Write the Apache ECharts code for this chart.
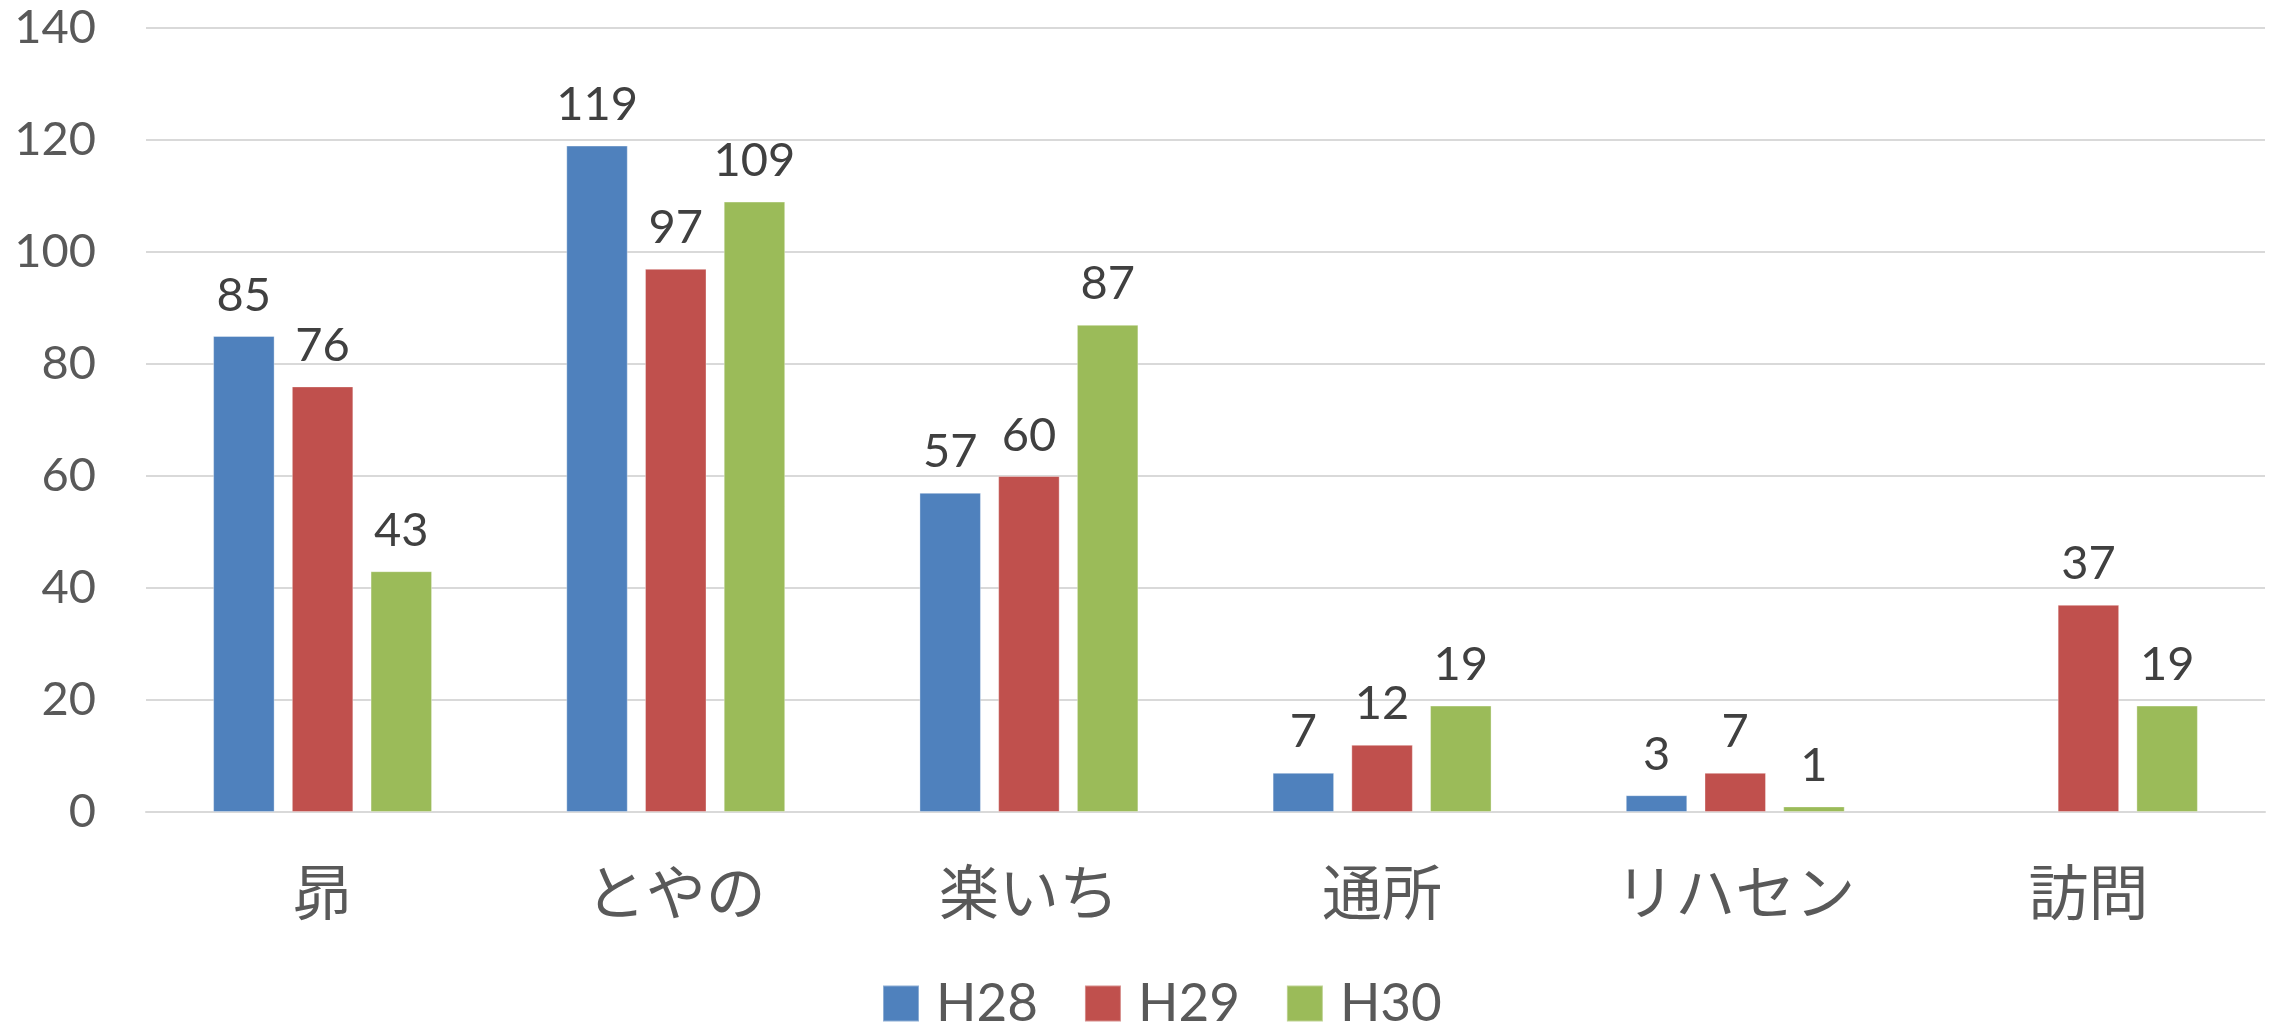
<!DOCTYPE html>
<html>
<head>
<meta charset="utf-8">
<script src="https://cdn.jsdelivr.net/npm/echarts@6/dist/echarts.min.js"></script>
<style>
  html, body { margin: 0; padding: 0; background: #ffffff; }
  #chart { width: 2277px; height: 1024px; }
</style>
</head>
<body>
<div id="chart"></div>
<script>
// Users per service, by fiscal year
const categories = ['昴', 'とやの', '楽いち', '通所', 'リハセン', '訪問'];
const seriesNames = ['H28', 'H29', 'H30'];
const valuesH28 = [85, 119, 57, 7, 3, null];
const valuesH29 = [76, 97, 60, 12, 7, 37];
const valuesH30 = [43, 109, 87, 19, 1, 19];
const yTicks = [0, 20, 40, 60, 80, 100, 120, 140];

const colors = ['#4F81BD', '#C0504D', '#9BBB59'];
const seriesValues = [valuesH28, valuesH29, valuesH30];

const chart = echarts.init(document.getElementById('chart'), null, { renderer: 'canvas' });

const numFont = 'Lato, "Noto Sans", sans-serif';
const cjkFont = '"Noto Sans CJK JP", "Noto Sans", sans-serif';

chart.setOption({
  animation: false,
  backgroundColor: '#ffffff',
  color: colors,
  grid: { left: 146, right: 12, top: 28, bottom: 212, containLabel: false },
  legend: {
    data: seriesNames,
    left: 877,
    top: 972,
    itemWidth: 36,
    itemHeight: 36,
    itemGap: 46,
    icon: 'rect',
    textStyle: { fontFamily: numFont, fontSize: 53, color: '#595959', padding: [0, 0, 0, 12] }
  },
  xAxis: {
    type: 'category',
    data: categories,
    axisTick: { show: false },
    axisLine: { show: true, lineStyle: { color: '#d9d9d9', width: 2 } },
    axisLabel: { fontFamily: cjkFont, fontSize: 60, color: '#595959', margin: 50 }
  },
  yAxis: {
    type: 'value',
    min: yTicks[0],
    max: yTicks[yTicks.length - 1],
    interval: yTicks[1] - yTicks[0],
    axisLine: { show: false },
    axisTick: { show: false },
    splitLine: { lineStyle: { color: '#d9d9d9', width: 2 } },
    axisLabel: { fontFamily: numFont, fontSize: 47, color: '#595959', margin: 50 }
  },
  series: seriesNames.map((name, i) => ({
    name: name,
    type: 'bar',
    data: seriesValues[i],
    barWidth: 61.5,
    barGap: '28%',
    itemStyle: { color: colors[i], borderColor: 'rgba(255,255,255,0.35)', borderWidth: 1 },
    label: {
      show: true,
      position: 'top',
      distance: 17,
      fontFamily: numFont,
      fontSize: 47,
      color: '#404040'
    }
  }))
});
</script>
</body>
</html>
